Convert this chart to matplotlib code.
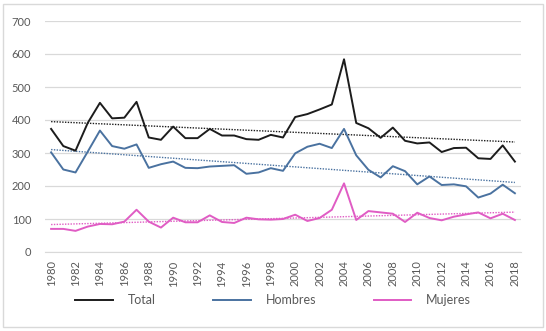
import matplotlib.pyplot as plt
import matplotlib.patches as mpatches
import numpy as np

plt.rcParams['font.family'] = ['Lato', 'DejaVu Sans']

years = list(range(1980, 2019))

total = [373, 321, 307, 391, 452, 405, 407, 455, 347, 340,
         380, 345, 345, 373, 353, 353, 342, 340, 355, 347,
         409, 418, 432, 447, 584, 391, 375, 346, 377, 337,
         329, 332, 303, 315, 316, 284, 282, 323, 274]
hombres = [302, 250, 241, 304, 368, 321, 313, 326, 255, 266,
           274, 255, 254, 259, 261, 263, 237, 241, 254, 246,
           299, 319, 328, 315, 373, 293, 249, 226, 260, 245,
           205, 229, 203, 205, 199, 165, 177, 204, 178]
mujeres = [70, 70, 64, 77, 85, 84, 92, 128, 92, 74,
           104, 90, 90, 111, 91, 88, 104, 99, 98, 100,
           113, 94, 103, 128, 208, 97, 124, 120, 116, 91,
           119, 103, 96, 107, 114, 120, 102, 116, 97]

series = [
    ('Total', total, '#1c1c1c'),
    ('Hombres', hombres, '#4a72a0'),
    ('Mujeres', mujeres, '#e05cc4'),
]

fig = plt.figure(figsize=(5.46, 3.31), dpi=100)
ax = fig.add_axes([45 / 546, 1 - 252 / 331, 476 / 546, 231 / 331])

x = np.array(years)
for name, vals, color in series:
    ax.plot(x, vals, color=color, lw=1.4, label=name, zorder=3)
    # linear trend line
    fit = np.poly1d(np.polyfit(x, vals, 1))
    ax.plot(x, fit(x), color=color, lw=1.0, ls=(0, (1, 1)), zorder=2)

ax.set_xlim(1979.5, 2018.5)
ax.set_ylim(0, 700)
ax.set_yticks(range(0, 701, 100))
ax.set_xticks(years[::2])
ax.tick_params(axis='x', rotation=90, labelsize=8, colors='#595959', length=0, pad=6)
ax.tick_params(axis='y', labelsize=8, colors='#595959', length=0, pad=10)
ax.grid(axis='y', color='#d9d9d9', lw=0.9)
ax.set_axisbelow(True)
for side in ['top', 'right', 'left']:
    ax.spines[side].set_visible(False)
ax.spines['bottom'].set_color('#d9d9d9')

fig.legend(loc='center', bbox_to_anchor=(0.5, 1 - 300 / 331), ncol=3,
           frameon=False, fontsize=9, handlelength=3.0, handletextpad=1.2,
           columnspacing=4.6, labelcolor='#595959')

# outer chart border
fig.patches.append(mpatches.Rectangle((3 / 546, 4 / 331), 540 / 546, 323 / 331,
                                      transform=fig.transFigure, fill=False,
                                      edgecolor='#d9d9d9', lw=1.0))

fig.savefig('out.png', dpi=100)
